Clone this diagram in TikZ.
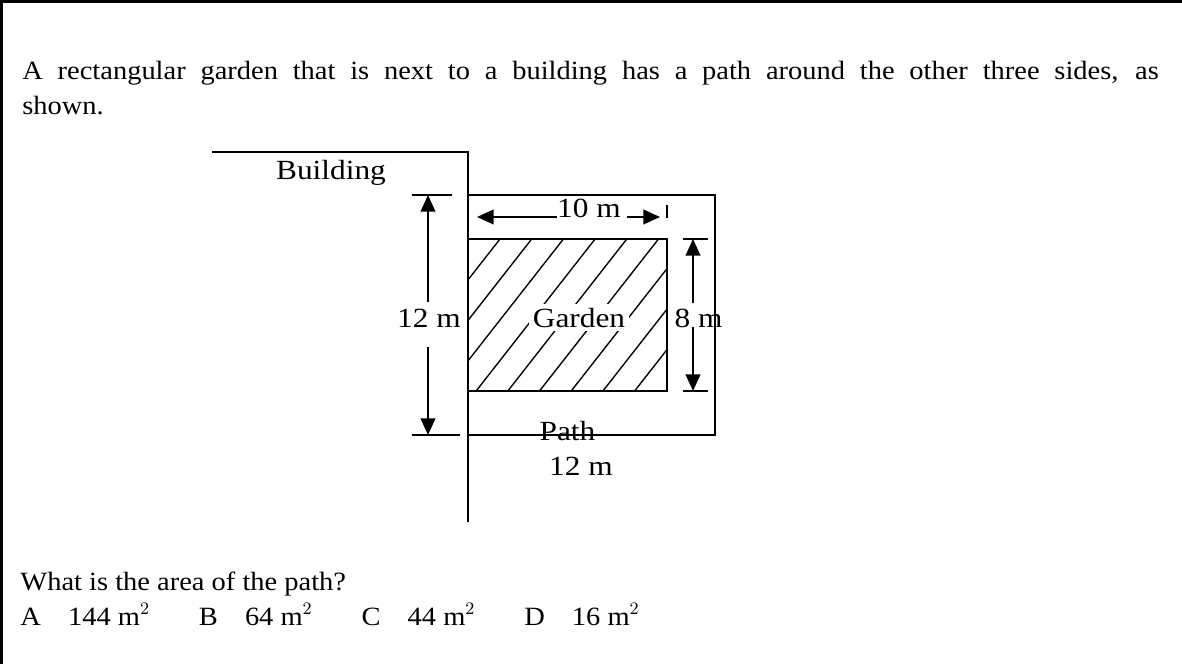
\documentclass[tikz,border=0pt]{standalone}
\usepackage{fontspec}
\setmainfont{Liberation Serif}
\newfontfamily\qfont[FakeStretch=1.08]{Liberation Serif}
\newfontfamily\diagfont[FakeStretch=1.13]{Liberation Serif}
\usetikzlibrary{arrows.meta}

\begin{document}
\begin{tikzpicture}[x=0.18cm,y=-0.18cm,
    txt/.style={font=\qfont\fontsize{13.5}{18}\selectfont,inner sep=0pt},
    lbl/.style={font=\diagfont\fontsize{14.2}{18}\selectfont,inner sep=0pt},
    ln/.style={line width=0.9pt},
    dim/.style={line width=0.9pt,-{Triangle[length=8.5pt,width=7.5pt]}},
    hatch/.style={line width=0.7pt}]
    \useasboundingbox (0,0) rectangle (118.2,66.4);

    % frame
    \draw[line width=1.6pt] (0.15,66.4) -- (0.15,0.15) -- (118.2,0.15);

    % question
    \node[txt,anchor=base west] (q1) at (2.2,8.0) {\makebox[582pt][s]{A rectangular garden that is next to a building has a path around the other three sides, as}};
    \node[txt,anchor=base west] (q2) at (2.2,11.5) {shown.};

    % building
    \draw[ln] (21.2,15.2) -- (46.8,15.2) -- (46.8,52.2);
    \node[lbl,anchor=base] (bld) at (33.1,18.0) {Building};

    % path
    \draw[ln] (46.8,19.5) -- (71.5,19.5) -- (71.5,43.5) -- (46.8,43.5);

    % garden with hatching
    \begin{scope}
        \clip (46.8,23.9) rectangle (66.7,39.1);
        \foreach \k in {0,...,9} {
            \draw[hatch] ({50+3.17*\k},23.9) -- ++(-11.9,15.2);
        }
    \end{scope}
    \draw[ln] (46.8,23.9) rectangle (66.7,39.1);
    \node[lbl,fill=white,inner sep=2pt,anchor=base] (gdn) at (57.9,32.7) {Garden};

    % 12 m (left)
    \coordinate (ltop) at (42.8,19.5);
    \coordinate (lbot) at (42.8,43.5);
    \coordinate (lgapa) at (42.8,30.2);
    \coordinate (lgapb) at (42.8,34.7);
    \draw[ln] (41.2,19.5) -- (45.2,19.5);
    \draw[ln] (41.2,43.5) -- (46.0,43.5);
    \draw[dim] (lgapa) -- (ltop);
    \draw[dim] (lgapb) -- (lbot);
    \node[lbl,anchor=base] (lbl12) at (42.9,32.7) {12 m};

    % 10 m (top)
    \coordinate (tleft) at (47.7,21.7);
    \coordinate (tright) at (66.0,21.7);
    \coordinate (tgapa) at (55.7,21.7);
    \coordinate (tgapb) at (62.7,21.7);
    \draw[dim] (tgapa) -- (tleft);
    \draw[dim] (tgapb) -- (tright);
    \node[lbl,anchor=base] (lbl10) at (58.9,21.7) {10 m};
    \draw[ln] (66.7,20.5) -- (66.7,21.8);

    % 8 m (right)
    \coordinate (rtop) at (69.3,23.9);
    \coordinate (rbot) at (69.3,39.1);
    \coordinate (rgapa) at (69.3,30.3);
    \coordinate (rgapb) at (69.3,32.7);
    \draw[ln] (68.3,23.9) -- (70.8,23.9);
    \draw[ln] (68.3,39.1) -- (70.8,39.1);
    \draw[dim] (rgapa) -- (rtop);
    \draw[dim] (rgapb) -- (rbot);
    \node[lbl,anchor=base] (lbl8) at (69.85,32.7) {8 m};

    % path labels
    \node[lbl,anchor=base] (pth) at (56.75,44.0) {Path};
    \node[lbl,anchor=base] (pth12) at (58.1,47.5) {12 m};

    % question and choices
    \node[txt,anchor=base west] (q3) at (2.0,59.0) {What is the area of the path?};
    \node[txt,anchor=base west] (ans) at (2.0,62.5) {A\hspace{13.9pt}144 m$^2$\hspace{25pt}B\hspace{13.9pt}64 m$^2$\hspace{25pt}C\hspace{13.9pt}44 m$^2$\hspace{25pt}D\hspace{13.9pt}16 m$^2$};
\end{tikzpicture}
\end{document}
